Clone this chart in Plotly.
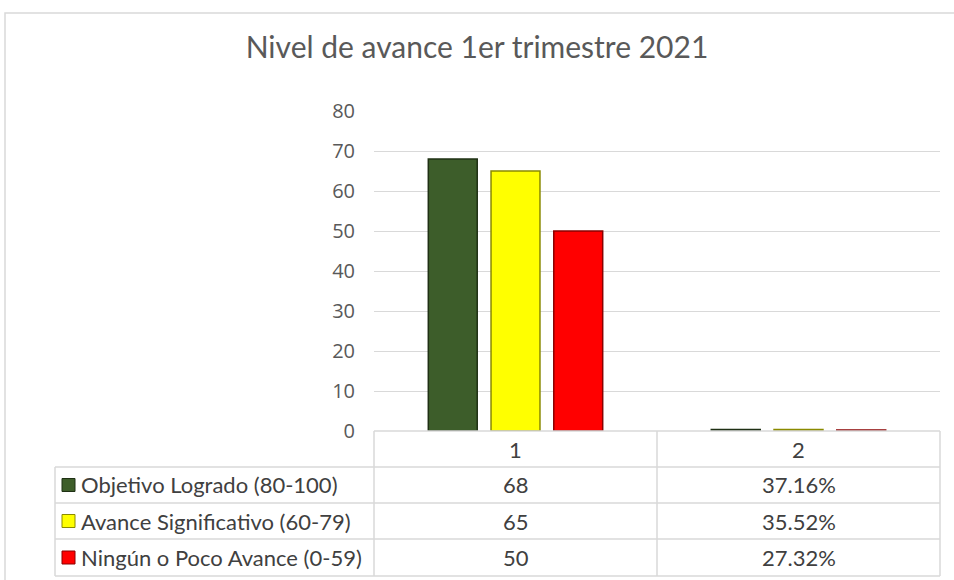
import plotly.graph_objects as go

# datos del reporte
categorias = ["1", "2"]
series = ["Objetivo Logrado (80-100)", "Avance Significativo (60-79)", "Ningún o Poco Avance (0-59)"]
valores = [
    [68, 0.3716],
    [65, 0.3552],
    [50, 0.2732],
]
etiquetas_2 = ["37.16%", "35.52%", "27.32%"]
colores = ["#3D5D2A", "#FFFF00", "#FF0000"]
bordes = ["#1F3014", "#8A8A00", "#8A0000"]

W, H = 954, 580
GRIS = "#d9d9d9"
TXT = "#404040"


def px(x):
    return x / W


def py(y):
    return 1 - y / H


fig = go.Figure()
for nombre, vals, c, b in zip(series, valores, colores, bordes):
    fig.add_trace(go.Bar(x=categorias, y=vals, name=nombre,
                         marker=dict(color=c, line=dict(color=b, width=1.5)),
                         showlegend=False))

# tabla de datos (bordes y textos)
cols = [55, 374, 657, 940]
filas = [431, 467, 503, 539, 576]
shapes = [dict(type="rect", xref="paper", yref="paper",
               x0=px(5), x1=1.02, y0=-0.02, y1=py(13),
               line=dict(color=GRIS, width=1.5), layer="below")]
annots = []


def linea(x0, y0, x1, y1):
    shapes.append(dict(type="line", xref="paper", yref="paper",
                       x0=px(x0), y0=py(y0), x1=px(x1), y1=py(y1),
                       line=dict(color=GRIS, width=1.5)))


# encabezado
linea(cols[1], filas[0], cols[3], filas[0])
for x in cols[1:]:
    linea(x, filas[0], x, filas[-1])
linea(cols[0], filas[1], cols[0], filas[-1])
for y in filas[1:]:
    linea(cols[0], y, cols[3], y)

fuente = dict(family="Lato", size=22, color=TXT)
for j, cat in enumerate(categorias):
    annots.append(dict(text=cat, xref="paper", yref="paper", showarrow=False,
                       x=px((cols[j + 1] + cols[j + 2]) / 2), y=py((filas[0] + filas[1]) / 2),
                       xanchor="center", yanchor="middle", font=fuente))

for i, s in enumerate(series):
    yc = (filas[i + 1] + filas[i + 2]) / 2
    shapes.append(dict(type="rect", xref="paper", yref="paper",
                       x0=px(62), x1=px(75), y0=py(yc - 6.5), y1=py(yc + 6.5),
                       fillcolor=colores[i], line=dict(color=bordes[i], width=1)))
    annots.append(dict(text=s, xref="paper", yref="paper", showarrow=False,
                       x=px(79), y=py(yc), xanchor="left", yanchor="middle", font=fuente))
    annots.append(dict(text=str(valores[i][0]), xref="paper", yref="paper", showarrow=False,
                       x=px((cols[1] + cols[2]) / 2), y=py(yc),
                       xanchor="center", yanchor="middle", font=fuente))
    annots.append(dict(text=etiquetas_2[i], xref="paper", yref="paper", showarrow=False,
                       x=px((cols[2] + cols[3]) / 2), y=py(yc),
                       xanchor="center", yanchor="middle", font=fuente))

fig.update_layout(
    width=W, height=H,
    margin=dict(l=0, r=0, t=0, b=0, pad=0, autoexpand=False),
    paper_bgcolor="white", plot_bgcolor="white",
    barmode="group", bargap=0.335, bargroupgap=0.22,
    title=dict(text="Nivel de avance 1er trimestre 2021", x=0.5, xanchor="center",
               y=py(47), yanchor="middle", automargin=False,
               font=dict(family="Lato", size=30, color="#595959")),
    xaxis=dict(domain=[px(374), px(940)], type="category", showticklabels=False,
               showgrid=False, showline=False, ticks="", automargin=False),
    yaxis=dict(domain=[py(431), py(111)], range=[0, 80], dtick=10,
               showgrid=True, gridcolor=GRIS, gridwidth=1.2, zeroline=False,
               showline=False, ticks="", ticklabelstandoff=18, automargin=False,
               tickfont=dict(family="Open Sans", size=20, color="#595959")),
    shapes=shapes,
    annotations=annots,
)

fig.write_html("out.html", config={"displayModeBar": False},
               post_script="document.body.style.margin='0';document.body.style.overflow='hidden';")
